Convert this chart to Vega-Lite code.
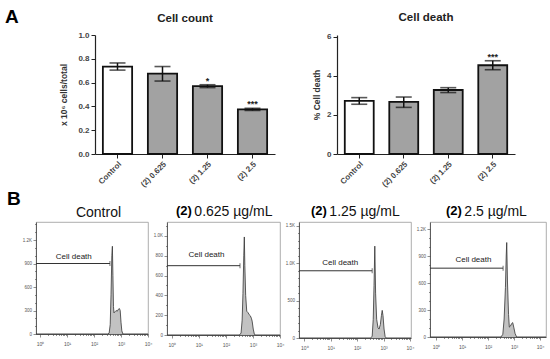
{
  "$schema": "https://vega.github.io/schema/vega-lite/v6.json",
  "padding": {"left": 5, "top": 8, "right": 2, "bottom": 2},
  "background": "white",
  "config": {
    "font": "Liberation Sans",
    "view": {"stroke": null},
    "axis": {"grid": false, "domainColor": "#222", "tickColor": "#222", "labelColor": "#444", "tickCount": 100, "labelOverlap": false},
    "title": {"color": "#111", "subtitleColor": "#111"}
  },
  "datasets": {
    "count": [
      {"g": "Control", "v": 0.735, "lo": 0.705, "hi": 0.765, "sig": ""},
      {"g": "(2) 0.625", "v": 0.675, "lo": 0.613, "hi": 0.735, "sig": ""},
      {"g": "(2) 1.25", "v": 0.57, "lo": 0.558, "hi": 0.582, "sig": "*"},
      {"g": "(2) 2.5", "v": 0.375, "lo": 0.366, "hi": 0.384, "sig": "***"}
    ],
    "death": [
      {"g": "Control", "v": 2.72, "lo": 2.55, "hi": 2.89, "sig": ""},
      {"g": "(2) 0.625", "v": 2.67, "lo": 2.39, "hi": 2.92, "sig": ""},
      {"g": "(2) 1.25", "v": 3.28, "lo": 3.15, "hi": 3.4, "sig": ""},
      {"g": "(2) 2.5", "v": 4.55, "lo": 4.32, "hi": 4.78, "sig": "***"}
    ],
    "hist": [
      {"p": "Control", "x": -0.15, "c": 0}, {"p": "Control", "x": 2.5, "c": 0}, {"p": "Control", "x": 2.56, "c": 10},
      {"p": "Control", "x": 2.6, "c": 120}, {"p": "Control", "x": 2.63, "c": 500}, {"p": "Control", "x": 2.66, "c": 1000},
      {"p": "Control", "x": 2.68, "c": 1120}, {"p": "Control", "x": 2.7, "c": 750}, {"p": "Control", "x": 2.72, "c": 350},
      {"p": "Control", "x": 2.74, "c": 270}, {"p": "Control", "x": 2.78, "c": 285}, {"p": "Control", "x": 2.82, "c": 300},
      {"p": "Control", "x": 2.86, "c": 290}, {"p": "Control", "x": 2.9, "c": 315}, {"p": "Control", "x": 2.94, "c": 325},
      {"p": "Control", "x": 2.97, "c": 300}, {"p": "Control", "x": 3.0, "c": 150}, {"p": "Control", "x": 3.03, "c": 40},
      {"p": "Control", "x": 3.07, "c": 0}, {"p": "Control", "x": 4.0, "c": 0},
      {"p": "0.625", "x": -0.18, "c": 0}, {"p": "0.625", "x": 2.5, "c": 0}, {"p": "0.625", "x": 2.56, "c": 20},
      {"p": "0.625", "x": 2.6, "c": 150}, {"p": "0.625", "x": 2.63, "c": 420}, {"p": "0.625", "x": 2.66, "c": 800},
      {"p": "0.625", "x": 2.68, "c": 990}, {"p": "0.625", "x": 2.7, "c": 700}, {"p": "0.625", "x": 2.73, "c": 400},
      {"p": "0.625", "x": 2.77, "c": 240}, {"p": "0.625", "x": 2.82, "c": 225}, {"p": "0.625", "x": 2.86, "c": 205},
      {"p": "0.625", "x": 2.9, "c": 195}, {"p": "0.625", "x": 2.94, "c": 170}, {"p": "0.625", "x": 2.97, "c": 140},
      {"p": "0.625", "x": 3.01, "c": 60}, {"p": "0.625", "x": 3.05, "c": 10}, {"p": "0.625", "x": 3.08, "c": 0},
      {"p": "0.625", "x": 4.0, "c": 0},
      {"p": "1.25", "x": -0.2, "c": 0}, {"p": "1.25", "x": 2.5, "c": 0}, {"p": "1.25", "x": 2.57, "c": 20},
      {"p": "1.25", "x": 2.61, "c": 250}, {"p": "1.25", "x": 2.64, "c": 700}, {"p": "1.25", "x": 2.67, "c": 1230},
      {"p": "1.25", "x": 2.7, "c": 600}, {"p": "1.25", "x": 2.74, "c": 250}, {"p": "1.25", "x": 2.79, "c": 140},
      {"p": "1.25", "x": 2.83, "c": 120}, {"p": "1.25", "x": 2.88, "c": 180}, {"p": "1.25", "x": 2.92, "c": 300},
      {"p": "1.25", "x": 2.95, "c": 370}, {"p": "1.25", "x": 2.98, "c": 300}, {"p": "1.25", "x": 3.02, "c": 120},
      {"p": "1.25", "x": 3.06, "c": 20}, {"p": "1.25", "x": 3.1, "c": 0}, {"p": "1.25", "x": 4.04, "c": 0},
      {"p": "2.5", "x": -0.23, "c": 0}, {"p": "2.5", "x": 2.5, "c": 0}, {"p": "2.5", "x": 2.57, "c": 30},
      {"p": "2.5", "x": 2.62, "c": 200}, {"p": "2.5", "x": 2.67, "c": 550}, {"p": "2.5", "x": 2.7, "c": 900},
      {"p": "2.5", "x": 2.72, "c": 1050}, {"p": "2.5", "x": 2.75, "c": 600}, {"p": "2.5", "x": 2.79, "c": 250},
      {"p": "2.5", "x": 2.82, "c": 110}, {"p": "2.5", "x": 2.86, "c": 120}, {"p": "2.5", "x": 2.91, "c": 150},
      {"p": "2.5", "x": 2.95, "c": 160}, {"p": "2.5", "x": 2.99, "c": 110}, {"p": "2.5", "x": 3.04, "c": 40},
      {"p": "2.5", "x": 3.1, "c": 0}, {"p": "2.5", "x": 4.23, "c": 0}
    ],
    "gate": [
      {"p": "Control", "x0": -0.15, "x1": 2.59, "y": 900, "lx": 1.25, "ly": 957, "label": "Cell death"},
      {"p": "0.625", "x0": -0.18, "x1": 2.52, "y": 700, "lx": 1.28, "ly": 783, "label": "Cell death"},
      {"p": "1.25", "x0": -0.2, "x1": 2.57, "y": 900, "lx": 1.36, "ly": 984, "label": "Cell death"},
      {"p": "2.5", "x0": -0.23, "x1": 2.58, "y": 765, "lx": 1.44, "ly": 828, "label": "Cell death"}
    ]
  },
  "spacing": 0,
  "vconcat": [
    {
      "hconcat": [
        {
          "width": 40, "height": 119,
          "data": {"values": []},
          "mark": "text",
          "title": {"text": "A", "anchor": "start", "frame": "group", "dx": -31, "offset": 8, "fontSize": 19, "fontWeight": "bold", "color": "#000"}
        },
        {
          "width": 180, "height": 119,
          "data": {"name": "count"},
          "title": {"text": "Cell count", "fontSize": 11.5, "fontWeight": "bold", "frame": "group", "anchor": "middle", "offset": 7, "color": "#222"},
          "encoding": {
            "x": {"field": "g", "type": "nominal", "title": null,
              "scale": {"domain": ["Control", "(2) 0.625", "(2) 1.25", "(2) 2.5"], "paddingInner": 0.35, "paddingOuter": 0.175},
              "axis": {"labelAngle": -45, "labelFontSize": 8, "labelFontWeight": "bold", "labelColor": "#444", "tickSize": 4, "labelPadding": 2, "domainWidth": 1.2, "tickWidth": 1}}
          },
          "layer": [
            {"mark": {"type": "bar", "stroke": "#111", "strokeWidth": 1.8},
             "encoding": {
               "y": {"field": "v", "type": "quantitative", "scale": {"domain": [0, 1], "nice": false},
                 "axis": {"values": [0, 0.2, 0.4, 0.6, 0.8, 1.0], "format": ".1f", "title": "x 10⁶ cells/total", "titleFontSize": 8.5, "titleFontWeight": "bold", "titleColor": "#333", "titlePadding": 9, "labelFontSize": 8, "labelFontWeight": "bold", "tickSize": 4, "labelPadding": 2, "domainWidth": 1.2, "tickWidth": 1}},
               "fill": {"condition": {"test": "datum.g == 'Control'", "value": "white"}, "value": "#a2a2a2"}
             }},
            {"mark": {"type": "rule", "strokeWidth": 1.5, "color": "#111"},
             "encoding": {"y": {"field": "lo", "type": "quantitative"}, "y2": {"field": "hi"}}},
            {"mark": {"type": "tick", "size": 16, "thickness": 1.6, "color": "#111"},
             "encoding": {"y": {"field": "lo", "type": "quantitative"}}},
            {"mark": {"type": "tick", "size": 16, "thickness": 1.6, "color": "#111"},
             "encoding": {"y": {"field": "hi", "type": "quantitative"}}},
            {"mark": {"type": "text", "fontSize": 9, "fontWeight": "bold", "baseline": "bottom", "dy": 1, "color": "#222"},
             "encoding": {"y": {"field": "hi", "type": "quantitative"}, "text": {"field": "sig"}}}
          ]
        },
        {
          "width": 24, "height": 119,
          "data": {"values": []},
          "mark": "text"
        },
        {
          "width": 178, "height": 119,
          "data": {"name": "death"},
          "title": {"text": "Cell death", "fontSize": 11.5, "fontWeight": "bold", "frame": "group", "anchor": "middle", "offset": 9, "color": "#222"},
          "encoding": {
            "x": {"field": "g", "type": "nominal", "title": null,
              "scale": {"domain": ["Control", "(2) 0.625", "(2) 1.25", "(2) 2.5"], "paddingInner": 0.35, "paddingOuter": 0.175},
              "axis": {"labelAngle": -45, "labelFontSize": 8, "labelFontWeight": "bold", "labelColor": "#444", "tickSize": 4, "labelPadding": 2, "domainWidth": 1.2, "tickWidth": 1}}
          },
          "layer": [
            {"mark": {"type": "bar", "stroke": "#111", "strokeWidth": 1.8},
             "encoding": {
               "y": {"field": "v", "type": "quantitative", "scale": {"domain": [0, 6.1], "nice": false},
                 "axis": {"values": [0, 2, 4, 6], "format": "d", "title": "% Cell death", "titleFontSize": 8.5, "titleFontWeight": "bold", "titleColor": "#333", "titlePadding": 5, "labelFontSize": 8, "labelFontWeight": "bold", "tickSize": 4, "labelPadding": 2, "domainWidth": 1.2, "tickWidth": 1}},
               "fill": {"condition": {"test": "datum.g == 'Control'", "value": "white"}, "value": "#a2a2a2"}
             }},
            {"mark": {"type": "rule", "strokeWidth": 1.5, "color": "#111"},
             "encoding": {"y": {"field": "lo", "type": "quantitative"}, "y2": {"field": "hi"}}},
            {"mark": {"type": "tick", "size": 16, "thickness": 1.6, "color": "#111"},
             "encoding": {"y": {"field": "lo", "type": "quantitative"}}},
            {"mark": {"type": "tick", "size": 16, "thickness": 1.6, "color": "#111"},
             "encoding": {"y": {"field": "hi", "type": "quantitative"}}},
            {"mark": {"type": "text", "fontSize": 9, "fontWeight": "bold", "baseline": "bottom", "dy": 1, "color": "#222"},
             "encoding": {"y": {"field": "hi", "type": "quantitative"}, "text": {"field": "sig"}}}
          ]
        }
      ],
      "spacing": 19,
      "bounds": "flush"
    },
    {
      "hconcat": [
        {
          "width": 112, "height": 112,
          "view": {"stroke": "#999", "strokeWidth": 0.8},
          "title": {"text": "B", "subtitle": "\u200b\u00a0\u00a0\u00a0\u00a0\u00a0\u00a0\u00a0\u00a0\u00a0\u00a0\u00a0\u00a0\u00a0\u00a0\u00a0\u00a0\u00a0\u2009Control", "anchor": "start", "frame": "group", "dx": -29, "offset": 1, "fontSize": 19, "fontWeight": "bold", "color": "#000", "subtitleFontSize": 14, "subtitlePadding": -3},
          "layer": [
            {"data": {"name": "hist"}, "transform": [{"filter": "datum.p == 'Control'"}],
             "mark": {"type": "area", "color": "#a8a8a8", "line": {"color": "#333", "strokeWidth": 0.8}},
             "encoding": {
               "x": {"field": "x", "type": "quantitative", "scale": {"domain": [-0.15, 4.0], "nice": false, "zero": false},
                 "axis": {"title": null, "values": [0,0.301,0.477,0.602,0.699,0.778,0.845,0.903,0.954,1,1.301,1.477,1.602,1.699,1.778,1.845,1.903,1.954,2,2.301,2.477,2.602,2.699,2.778,2.845,2.903,2.954,3,3.301,3.477,3.602,3.699,3.778,3.845,3.903,3.954,4],
                   "labelExpr": "datum.value % 1 ? '' : '10' + ['⁰','¹','²','³','⁴'][datum.value]",
                   "tickSize": {"condition": {"test": "datum.value % 1 == 0", "value": 3}, "value": 1.5},
                   "labelFontSize": 5, "labelPadding": 4, "labelFlush": false, "domainColor": "#444", "domainWidth": 0.8, "tickColor": "#444", "tickWidth": 0.6, "labelColor": "#555"}},
               "y": {"field": "c", "type": "quantitative", "scale": {"domain": [0, 1430], "nice": false},
                 "axis": {"title": null, "values": [0,100,200,300,400,500,600,700,800,900,1000,1100,1200,1300,1400],
                   "labelExpr": "datum.value % 300 ? '' : (datum.value >= 1000 ? format(datum.value / 1000, '.1f') + 'K' : datum.label)",
                   "tickSize": {"condition": {"test": "datum.value % 300 == 0", "value": 3}, "value": 1.5},
                   "labelFontSize": 4.5, "labelPadding": 1.5, "labelFlush": false, "domainColor": "#444", "domainWidth": 0.8, "tickColor": "#444", "tickWidth": 0.6, "labelColor": "#555"}}
             }},
            {"data": {"name": "gate"}, "transform": [{"filter": "datum.p == 'Control'"}],
             "mark": {"type": "rule", "color": "#333", "strokeWidth": 1},
             "encoding": {"x": {"field": "x0", "type": "quantitative"}, "x2": {"field": "x1"}, "y": {"field": "y", "type": "quantitative"}}},
            {"data": {"name": "gate"}, "transform": [{"filter": "datum.p == 'Control'"}],
             "mark": {"type": "tick", "orient": "vertical", "size": 5, "thickness": 1, "color": "#333"},
             "encoding": {"x": {"field": "x1", "type": "quantitative"}, "y": {"field": "y", "type": "quantitative"}}},
            {"data": {"name": "gate"}, "transform": [{"filter": "datum.p == 'Control'"}],
             "mark": {"type": "text", "fontSize": 8, "color": "#222", "baseline": "alphabetic"},
             "encoding": {"x": {"field": "lx", "type": "quantitative"}, "y": {"field": "ly", "type": "quantitative"}, "text": {"field": "label"}}}
          ]
        },
        {
          "width": 113, "height": 113,
          "view": {"stroke": "#999", "strokeWidth": 0.8},
          "title": {"text": "(2)", "subtitle": "\u200b\u00a0\u00a0\u00a0\u00a0\u20090.625 µg/mL", "anchor": "start", "frame": "group", "dx": 9, "offset": 3, "fontSize": 13, "fontWeight": "bold", "color": "#000", "subtitleFontSize": 14, "subtitlePadding": -13},
          "layer": [
            {"data": {"name": "hist"}, "transform": [{"filter": "datum.p == '0.625'"}],
             "mark": {"type": "area", "color": "#a8a8a8", "line": {"color": "#333", "strokeWidth": 0.8}},
             "encoding": {
               "x": {"field": "x", "type": "quantitative", "scale": {"domain": [-0.18, 4.0], "nice": false, "zero": false},
                 "axis": {"title": null, "values": [0,0.301,0.477,0.602,0.699,0.778,0.845,0.903,0.954,1,1.301,1.477,1.602,1.699,1.778,1.845,1.903,1.954,2,2.301,2.477,2.602,2.699,2.778,2.845,2.903,2.954,3,3.301,3.477,3.602,3.699,3.778,3.845,3.903,3.954,4],
                   "labelExpr": "datum.value % 1 ? '' : '10' + ['⁰','¹','²','³','⁴'][datum.value]",
                   "tickSize": {"condition": {"test": "datum.value % 1 == 0", "value": 3}, "value": 1.5},
                   "labelFontSize": 5, "labelPadding": 4, "labelFlush": false, "domainColor": "#444", "domainWidth": 0.8, "tickColor": "#444", "tickWidth": 0.6, "labelColor": "#555"}},
               "y": {"field": "c", "type": "quantitative", "scale": {"domain": [0, 1141], "nice": false},
                 "axis": {"title": null, "values": [0,100,200,300,400,500,600,700,800,900,1000,1100],
                   "labelExpr": "datum.value % 200 ? '' : (datum.value >= 1000 ? format(datum.value / 1000, '.1f') + 'K' : datum.label)",
                   "tickSize": {"condition": {"test": "datum.value % 200 == 0", "value": 3}, "value": 1.5},
                   "labelFontSize": 4.5, "labelPadding": 1.5, "labelFlush": false, "domainColor": "#444", "domainWidth": 0.8, "tickColor": "#444", "tickWidth": 0.6, "labelColor": "#555"}}
             }},
            {"data": {"name": "gate"}, "transform": [{"filter": "datum.p == '0.625'"}],
             "mark": {"type": "rule", "color": "#333", "strokeWidth": 1},
             "encoding": {"x": {"field": "x0", "type": "quantitative"}, "x2": {"field": "x1"}, "y": {"field": "y", "type": "quantitative"}}},
            {"data": {"name": "gate"}, "transform": [{"filter": "datum.p == '0.625'"}],
             "mark": {"type": "tick", "orient": "vertical", "size": 5, "thickness": 1, "color": "#333"},
             "encoding": {"x": {"field": "x1", "type": "quantitative"}, "y": {"field": "y", "type": "quantitative"}}},
            {"data": {"name": "gate"}, "transform": [{"filter": "datum.p == '0.625'"}],
             "mark": {"type": "text", "fontSize": 8, "color": "#222", "baseline": "alphabetic"},
             "encoding": {"x": {"field": "lx", "type": "quantitative"}, "y": {"field": "ly", "type": "quantitative"}, "text": {"field": "label"}}}
          ]
        },
        {
          "width": 112, "height": 116,
          "view": {"stroke": "#999", "strokeWidth": 0.8},
          "title": {"text": "(2)", "subtitle": "\u200b\u00a0\u00a0\u00a0\u00a0\u20091.25 µg/mL", "anchor": "start", "frame": "group", "dx": 12, "offset": 3, "fontSize": 13, "fontWeight": "bold", "color": "#000", "subtitleFontSize": 14, "subtitlePadding": -13},
          "layer": [
            {"data": {"name": "hist"}, "transform": [{"filter": "datum.p == '1.25'"}],
             "mark": {"type": "area", "color": "#a8a8a8", "line": {"color": "#333", "strokeWidth": 0.8}},
             "encoding": {
               "x": {"field": "x", "type": "quantitative", "scale": {"domain": [-0.2, 4.04], "nice": false, "zero": false},
                 "axis": {"title": null, "values": [0,0.301,0.477,0.602,0.699,0.778,0.845,0.903,0.954,1,1.301,1.477,1.602,1.699,1.778,1.845,1.903,1.954,2,2.301,2.477,2.602,2.699,2.778,2.845,2.903,2.954,3,3.301,3.477,3.602,3.699,3.778,3.845,3.903,3.954,4],
                   "labelExpr": "datum.value % 1 ? '' : '10' + ['⁰','¹','²','³','⁴'][datum.value]",
                   "tickSize": {"condition": {"test": "datum.value % 1 == 0", "value": 3}, "value": 1.5},
                   "labelFontSize": 5, "labelPadding": 4, "labelFlush": false, "domainColor": "#444", "domainWidth": 0.8, "tickColor": "#444", "tickWidth": 0.6, "labelColor": "#555"}},
               "y": {"field": "c", "type": "quantitative", "scale": {"domain": [0, 1553], "nice": false},
                 "axis": {"title": null, "values": [0,100,200,300,400,500,600,700,800,900,1000,1100,1200,1300,1400,1500],
                   "labelExpr": "datum.value % 500 ? '' : (datum.value >= 1000 ? format(datum.value / 1000, '.1f') + 'K' : datum.label)",
                   "tickSize": {"condition": {"test": "datum.value % 500 == 0", "value": 3}, "value": 1.5},
                   "labelFontSize": 4.5, "labelPadding": 1.5, "labelFlush": false, "domainColor": "#444", "domainWidth": 0.8, "tickColor": "#444", "tickWidth": 0.6, "labelColor": "#555"}}
             }},
            {"data": {"name": "gate"}, "transform": [{"filter": "datum.p == '1.25'"}],
             "mark": {"type": "rule", "color": "#333", "strokeWidth": 1},
             "encoding": {"x": {"field": "x0", "type": "quantitative"}, "x2": {"field": "x1"}, "y": {"field": "y", "type": "quantitative"}}},
            {"data": {"name": "gate"}, "transform": [{"filter": "datum.p == '1.25'"}],
             "mark": {"type": "tick", "orient": "vertical", "size": 5, "thickness": 1, "color": "#333"},
             "encoding": {"x": {"field": "x1", "type": "quantitative"}, "y": {"field": "y", "type": "quantitative"}}},
            {"data": {"name": "gate"}, "transform": [{"filter": "datum.p == '1.25'"}],
             "mark": {"type": "text", "fontSize": 8, "color": "#222", "baseline": "alphabetic"},
             "encoding": {"x": {"field": "lx", "type": "quantitative"}, "y": {"field": "ly", "type": "quantitative"}, "text": {"field": "label"}}}
          ]
        },
        {
          "width": 116, "height": 115,
          "view": {"stroke": "#999", "strokeWidth": 0.8},
          "title": {"text": "(2)", "subtitle": "\u200b\u00a0\u00a0\u00a0\u00a0\u20092.5 µg/mL", "anchor": "start", "frame": "group", "dx": 16, "offset": 3, "fontSize": 13, "fontWeight": "bold", "color": "#000", "subtitleFontSize": 14, "subtitlePadding": -13},
          "layer": [
            {"data": {"name": "hist"}, "transform": [{"filter": "datum.p == '2.5'"}],
             "mark": {"type": "area", "color": "#a8a8a8", "line": {"color": "#333", "strokeWidth": 0.8}},
             "encoding": {
               "x": {"field": "x", "type": "quantitative", "scale": {"domain": [-0.23, 4.23], "nice": false, "zero": false},
                 "axis": {"title": null, "values": [0,0.301,0.477,0.602,0.699,0.778,0.845,0.903,0.954,1,1.301,1.477,1.602,1.699,1.778,1.845,1.903,1.954,2,2.301,2.477,2.602,2.699,2.778,2.845,2.903,2.954,3,3.301,3.477,3.602,3.699,3.778,3.845,3.903,3.954,4],
                   "labelExpr": "datum.value % 1 ? '' : '10' + ['⁰','¹','²','³','⁴'][datum.value]",
                   "tickSize": {"condition": {"test": "datum.value % 1 == 0", "value": 3}, "value": 1.5},
                   "labelFontSize": 5, "labelPadding": 4, "labelFlush": false, "domainColor": "#444", "domainWidth": 0.8, "tickColor": "#444", "tickWidth": 0.6, "labelColor": "#555"}},
               "y": {"field": "c", "type": "quantitative", "scale": {"domain": [0, 1278], "nice": false},
                 "axis": {"title": null, "values": [0,100,200,300,400,500,600,700,800,900,1000,1100,1200],
                   "labelExpr": "datum.value % 300 ? '' : (datum.value >= 1000 ? format(datum.value / 1000, '.1f') + 'K' : datum.label)",
                   "tickSize": {"condition": {"test": "datum.value % 300 == 0", "value": 3}, "value": 1.5},
                   "labelFontSize": 4.5, "labelPadding": 1.5, "labelFlush": false, "domainColor": "#444", "domainWidth": 0.8, "tickColor": "#444", "tickWidth": 0.6, "labelColor": "#555"}}
             }},
            {"data": {"name": "gate"}, "transform": [{"filter": "datum.p == '2.5'"}],
             "mark": {"type": "rule", "color": "#333", "strokeWidth": 1},
             "encoding": {"x": {"field": "x0", "type": "quantitative"}, "x2": {"field": "x1"}, "y": {"field": "y", "type": "quantitative"}}},
            {"data": {"name": "gate"}, "transform": [{"filter": "datum.p == '2.5'"}],
             "mark": {"type": "tick", "orient": "vertical", "size": 5, "thickness": 1, "color": "#333"},
             "encoding": {"x": {"field": "x1", "type": "quantitative"}, "y": {"field": "y", "type": "quantitative"}}},
            {"data": {"name": "gate"}, "transform": [{"filter": "datum.p == '2.5'"}],
             "mark": {"type": "text", "fontSize": 8, "color": "#222", "baseline": "alphabetic"},
             "encoding": {"x": {"field": "lx", "type": "quantitative"}, "y": {"field": "ly", "type": "quantitative"}, "text": {"field": "label"}}}
          ]
        }
      ],
      "spacing": 19,
      "bounds": "flush"
    }
  ]
}
